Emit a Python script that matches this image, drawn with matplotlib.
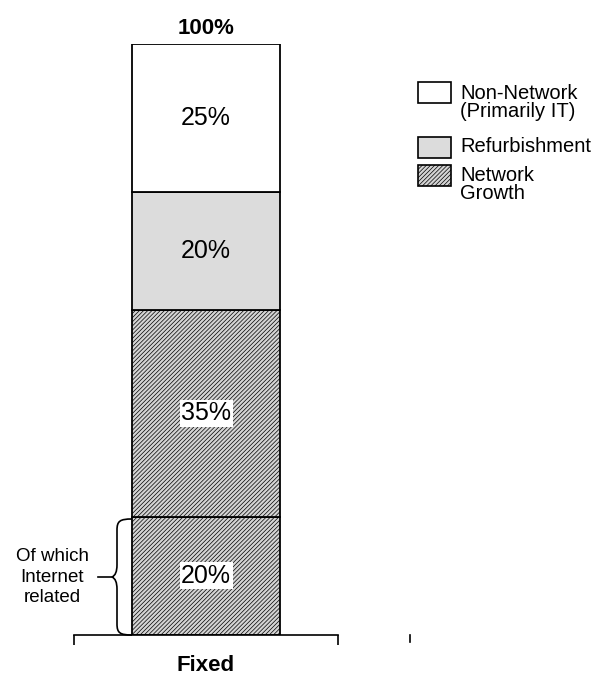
import matplotlib.pyplot as plt
from matplotlib.patches import Rectangle, PathPatch
from matplotlib.path import Path

plt.rcParams['font.family'] = ['Liberation Sans', 'DejaVu Sans']
plt.rcParams['hatch.linewidth'] = 0.5
plt.rcParams['hatch.color'] = '#666666'

# data
category = 'Fixed'
segments = ['Network Growth (Internet)', 'Network Growth', 'Refurbishment', 'Non-Network']
values = [20, 35, 20, 25]
labels = ['20%', '35%', '20%', '25%']
total_label = '100%'
legend_labels = ['Non-Network\n(Primarily IT)', 'Refurbishment', 'Network\nGrowth']

W, H = 606, 677
fig = plt.figure(figsize=(W / 100, H / 100), dpi=100)

# bar axes: pixel x 74..338, y 44..635
ax = fig.add_axes([74 / W, (H - 635) / H, 264 / W, 591 / H])
ax.set_xlim(-0.5, 0.5)
ax.set_ylim(0, 100)

styles = [
    dict(facecolor='#d4d4d4', hatch='////////'),
    dict(facecolor='#d4d4d4', hatch='////////'),
    dict(facecolor='#dcdcdc', hatch=None),
    dict(facecolor='white', hatch=None),
]
bottom = 0
for v, lab, st in zip(values, labels, styles):
    ax.bar(0, v, bottom=bottom, width=0.557, edgecolor='black', linewidth=1.3, **st)
    bbox = dict(facecolor='white', edgecolor='none', pad=1) if st['hatch'] else None
    ax.text(0, bottom + v / 2, lab, ha='center', va='center', fontsize=18, bbox=bbox)
    bottom += v

ax.text(0, bottom + 0.9, total_label, ha='center', va='bottom', fontsize=16, fontweight='bold')

for s in ['top', 'right', 'left']:
    ax.spines[s].set_visible(False)
ax.spines['bottom'].set_linewidth(1.2)
ax.set_yticks([])
ax.set_xticks([-0.5, 0.5])
ax.set_xticklabels(['', ''])
ax.tick_params(axis='x', direction='out', length=7, width=1.2)
ax.text(0, -3.4, category, ha='center', va='top', fontsize=16, fontweight='bold')

# overlay in pixel coordinates for decorations
ov = fig.add_axes([0, 0, 1, 1], zorder=5)
ov.set_xlim(0, W)
ov.set_ylim(H, 0)
ov.axis('off')
ov.patch.set_alpha(0)

# stray tick on the right
ov.plot([410, 410], [635, 642], color='black', lw=1.2)

# legend
leg_boxes = [(418, 82), (418, 137), (418, 165)]
leg_styles = [styles[3], styles[2], styles[1]]
leg_text_y = [84, 137, 166]
for (x, y), st, lab, ty in zip(leg_boxes, leg_styles, legend_labels, leg_text_y):
    ov.add_patch(Rectangle((x, y), 33, 21, edgecolor='black', linewidth=1.2,
                           facecolor=st['facecolor'], hatch=st['hatch']))
    ov.text(460, ty, lab, ha='left', va='top', fontsize=14.5, linespacing=0.95)

# brace
verts = [(132, 519), (120, 519), (117, 521), (117, 530),
         (117, 565), (117, 575), (112, 577),
         (117, 579), (117, 589), (117, 624),
         (117, 633), (120, 635), (132, 635)]
codes = [Path.MOVETO, Path.CURVE4, Path.CURVE4, Path.CURVE4,
         Path.LINETO, Path.CURVE3, Path.CURVE3,
         Path.CURVE3, Path.CURVE3, Path.LINETO,
         Path.CURVE4, Path.CURVE4, Path.CURVE4]
ov.add_patch(PathPatch(Path(verts, codes), facecolor='none', edgecolor='black', lw=1.2))
ov.plot([98, 112], [577, 577], color='black', lw=1.2)
ov.text(52, 577, 'Of which\nInternet\nrelated', ha='center', va='center', fontsize=13.5,
        linespacing=1.3)

fig.savefig('out.png', dpi=100)
